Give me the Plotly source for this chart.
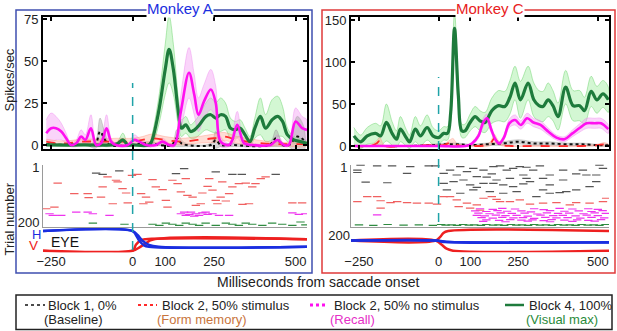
import plotly.graph_objects as go

FONT = "Liberation Sans, Arial, sans-serif"
W, H = 617, 331

X_RANGE = [-275, 535]
X_TICKS = [-250, 0, 100, 250, 500]
Y_TICKS_A = [0, 25, 50, 75]
Y_TICKS_C = [0, 50, 100, 150]

# ---------------- Monkey A firing rates (ms, spikes/sec, sem) ----------------
t_mA = [-265,-250,-235,-219,-204,-189,-173,-158,-145,-128,-112,-97,-80,-66,-51,-15,5,20,41,71,92,112,128,148,173,189,202,219,240,255,270,296,306,321,342,367,423,444,464,479,500,520,535]
y_mA = [7,10,10,8,4,0,1,5,3,10,0,1,10,2,0,0,3,2,0,0,2,0,0,20,43,30,18,26,33,25,2,0,3,12,1,0,0,3,0,0,14,10,9]
e_mA = [8,9,7,5,3,1,2,4,3,8,1,2,8,2,1,1,3,2,1,1,2,1,1,10,15,12,10,10,12,10,3,1,3,8,2,1,1,3,1,1,8,7,6]

t_gA = [-265,-150,-50,-30,-15,0,50,58,80,100,112,125,140,150,163,178,190,205,225,240,255,270,285,300,315,330,345,360,375,392,408,428,445,460,475,495,515,535]
y_gA = [0,0,0.5,3,0,0,0,2,20,45,57,45,20,10,12,8,9,12,17,18,16,18,17,10,9,10,6,2,10,17,10,15,17,14,6,3,2,1]
e_gA = [0.5,0.5,1,4,1,0.5,1,3,8,15,20,15,8,5,5,4,5,6,8,10,9,10,8,6,5,5,4,3,6,11,8,12,12,9,4,2,2,1]

t_kA = [-265,-200,-140,-115,-100,-85,-70,0,40,120,135,150,165,240,255,270,300,420,440,460,480,505,525]
y_kA = [0.5,0,0,0,8,3,0,0,1,0,4,1,0,0,3,0,0,0,4,0,0,5,3]
e_kA = [0.5,0.5,0.5,2,8,4,1,0.5,1,1,5,2,1,1,5,1,1,1,5,1,1,12,8]

t_rA = [-265,-230,-200,-150,-100,-50,0,30,60,100,150,200,250,280,320,350,400,450,535]
y_rA = [2,1,1,2,2,2,2,3,4,3,2,3,4,5,3,2,1,0.5,0.5]
e_rA = [1.5,1.5,1.5,1.5,1.5,2,2,2,2.5,2,2,2,2.5,2.5,2,2,1.5,1,1]

# ---------------- Monkey C firing rates ----------------
t_gC = [-266,-245,-224,-198,-182,-164,-146,-132,-120,-102,-91,-73,-57,-36,-18,0,16,28,38,50,62,73,83,99,115,130,146,167,188,208,224,240,257,281,299,315,328,344,359,375,399,422,443,458,479,497,516,533]
y_gC = [12,5,12,15,12,28,15,8,20,10,5,20,12,22,12,10,15,15,40,140,60,18,18,28,35,30,28,42,48,47,58,75,55,75,55,48,47,55,48,35,70,48,48,42,65,55,62,55]
e_gC = [10,8,10,12,12,22,14,10,15,10,8,15,12,15,10,8,8,8,12,20,15,8,8,10,12,12,12,15,18,18,20,20,22,20,20,18,18,20,18,16,20,18,18,16,18,16,16,15]

t_mC = [-266,-100,0,85,105,125,140,152,165,178,190,205,222,240,258,278,298,320,345,370,395,420,445,465,490,510,533]
y_mC = [0,0,0,0,3,12,28,33,20,8,3,10,27,31,25,33,28,25,17,10,8,15,22,27,27,27,20]
e_mC = [0.3,0.3,0.3,0.5,2,3,5,5,4,2,2,3,5,6,5,6,5,5,4,3,3,4,5,6,6,6,5]

t_rC = [-266,-215,-195,-185,-170,-100,-20,15,35,45,60,100,160,175,185,200,230,300,450,500,520,533]
y_rC = [0,0,3,6,0,0,1,1,4,5,1,0,2,9,5,1,0,0,0,1,2,1]
e_rC = [0.5,1,3,4,1,0.5,1,1,3,4,1,0.5,2,5,3,1,0.5,0.5,0.5,1,2,1]

t_kC = [-266,-100,-20,20,60,100,150,200,250,300,350,400,450,500,533]
y_kC = [0,0,1,2,2,1,2,3,5,3,3,2,2,1,1]
e_kC = [0.5,0.5,1,1.5,1.5,1,1.5,2,2.5,2,2,1.5,1.5,1,1]

# ---------------- Rasters (ms, trial) ----------------
rasA_black = [(-112,23),(-92,28),(-41,15),(133,25),(158,7),(255,19),(306,28),(335,28),(439,28)]
rasA_red = [(-230,59),(-179,97),(-138,97),(-135,112),(-97,110),(-92,73),(-77,37),(-61,134),(-51,49),(-46,55),
            (-31,79),(-20,95),(-15,131),(-2,31),(15,28),(26,97),(33,134),(41,110),(51,128),(61,47),(71,73),
            (92,83),(102,122),(107,146),(122,49),(138,61),(148,91),(163,43),(168,104),(184,110),(194,140),
            (209,134),(214,95),(230,71),(235,43),(245,85),(255,122),(260,134),(270,110),(275,55),(286,124),
            (296,97),(306,73),(326,61),(337,136),(347,59),(357,134),(367,73),(377,61),(393,43),(408,37),
            (490,131),(520,131),(-265,152),(-240,146)]
rasA_magenta = [(-255,170),(-245,176),(-219,176),(-173,164),(-138,164),(-122,170),(-71,176),(148,170),(163,176),
                (179,164),(194,170),(214,167),(230,172),(245,170),(265,176),(296,176),(490,167),(510,172),
                (530,170),(158,164),(204,176),(174,172),(224,164),(189,179)]
rasA_green = [(-122,204),(-25,208),(61,208),(82,212),(102,204),(122,208),(143,212),(163,204),(184,208),(204,212),
              (224,204),(255,212),(286,204),(306,208),(326,212),(347,204),(367,208),(398,212),(428,204),
              (459,208),(490,212),(515,200),(530,210)]

rasC_black = [(-245,-6),(-255,12),(-193,-3),(-146,-3),(-89,0),(-31,-3),(-10,-3),(-229,56),(-161,58),(-99,24),
              (-255,21),(16,24),(36,12),(57,30),(89,18),(109,6),(141,12),(167,26),(193,-3),(214,12),(234,6),
              (255,0),(276,2),(297,12),(318,-3),(349,30),(391,12),(432,26),(464,30),(495,30),(516,6),(16,60),
              (47,54),(78,48),(99,66),(120,75),(141,60),(172,60),(203,66),(234,72),(266,62),(287,54),(328,84),
              (349,96),(380,94),(401,90),(432,84),(474,72),(495,54),(26,84),(68,96),(109,84),(161,90),(203,96),
              (245,90),(307,108),(349,66),(266,30),(68,0),(172,0),(224,42),(276,42),(328,42),(391,48),(453,12),
              (505,-6),(120,36),(151,38),(182,48)]
rasC_red = [(-255,126),(-224,108),(-193,108),(-182,123),(-151,130),(-130,126),(-99,130),(-68,132),(-31,132),
            (-5,135),(16,108),(36,108),(57,120),(63,144),(89,132),(120,138),(141,114),(167,108),(182,118),
            (193,126),(224,126),(255,120),(287,135),(328,132),(370,130),(412,138),(432,130),(474,132),
            (516,126),(526,114),(99,150),(130,157),(-182,150)]
rasC_magenta = [(-193,174),
                (130,152),(170,154),(200,151),(240,153),(300,152),(330,155),(380,151),(420,153),(470,152),(500,154),
                (115,160),(150,162),(185,159),(215,161),(260,160),(290,163),(350,159),(395,161),(440,160),(480,162),(515,159),
                (125,168),(160,170),(195,167),(230,169),(270,168),(310,171),(340,167),(375,169),(410,168),(455,170),(490,167),(525,169),
                (120,176),(145,178),(180,175),(210,177),(245,176),(280,179),(320,175),(360,177),(390,176),(430,178),(465,175),(500,177),
                (135,184),(170,186),(200,183),(235,185),(265,184),(300,187),(335,183),(370,185),(405,184),(445,186),(480,183),(520,185),
                (150,192),(190,194),(225,191),(260,193),(295,192),(330,195),(355,191),(395,193),(435,192),(470,194),(510,191),
                (140,198),(210,199),(280,197),(350,199),(420,198),(490,197)]
rasC_green = [(-250,210),(-205,212),(-160,209),(-110,211),(-62,210),(-18,212),(8,209),(22,211),(41,210),(58,212),
              (77,209),(95,211),(112,210),(133,212),(150,209),(171,211),(188,210),(206,212),(227,209),(244,211),
              (262,210),(281,212),(300,209),(318,211),(337,210),(356,212),(375,209),(393,211),(412,210),(430,212),
              (449,209),(468,211),(487,210),(505,212),(524,209)]

# ---------------- Eye traces (ms, position) ----------------
eyeA_H = [([-275,0,15,30,50,80,535],[8.9,8.9,7.5,5.5,4.0,3.3,3.3]),
          ([-275,0,10,20,35,50,535],[8.9,8.9,7.5,5.5,3.8,3.3,3.3])]
eyeA_V = [([-275,0,10,25,40,535],[1.9,1.9,4.0,5.6,6.0,6.0]),
          ([-275,0,20,40,60,535],[1.9,1.9,3.0,4.5,5.8,6.0])]
eyeC_H = [([-275,-10,20,60,535],[5.5,5.5,5.0,4.9,4.8]),
          ([-275,-10,25,70,535],[5.5,5.5,5.1,4.8,4.9])]
eyeC_V = [([-275,-10,5,15,30,535],[5.5,5.5,6.8,8.2,8.9,8.9]),
          ([-275,-10,10,25,45,535],[5.5,5.5,4.0,2.6,1.9,1.9])]

# ---------------- styles ----------------
C_GREEN, F_GREEN, E_GREEN = "#1e7b3c", "rgba(140,235,140,0.38)", "rgba(90,205,90,0.7)"
C_MAG, F_MAG, E_MAG = "#ff10f0", "rgba(245,160,245,0.45)", "rgba(235,120,235,0.6)"
C_RED, F_RED, E_RED = "#ff2a2a", "rgba(255,170,150,0.4)", "rgba(255,120,100,0.5)"
C_BLK, F_BLK, E_BLK = "#111111", "rgba(165,165,165,0.45)", "rgba(130,130,130,0.5)"
C_TEAL = "#1fa3a8"
C_BLUE = "#1a2ee0"


def px_x(p):
    return p / W


def px_y(p):
    return 1 - p / H


fig = go.Figure()


def add_band(t, m, e, xa, ya, fill, edge):
    hi = [a + b for a, b in zip(m, e)]
    lo = [a - b for a, b in zip(m, e)]
    fig.add_trace(go.Scatter(x=t + t[::-1], y=hi + lo[::-1], fill="toself", fillcolor=fill,
                             mode="lines", line=dict(color=edge, width=0.6, shape="spline"),
                             xaxis=xa, yaxis=ya, hoverinfo="skip", showlegend=False))


def add_line(t, m, xa, ya, color, width, dash):
    fig.add_trace(go.Scatter(x=t, y=m, mode="lines",
                             line=dict(color=color, width=width, dash=dash, shape="spline"),
                             xaxis=xa, yaxis=ya, hoverinfo="skip", showlegend=False))


def add_raster(pairs, xa, ya, color):
    fig.add_trace(go.Scatter(x=[p[0] for p in pairs], y=[p[1] for p in pairs], mode="markers",
                             marker=dict(symbol="line-ew", size=6, line=dict(color=color, width=1.2)),
                             xaxis=xa, yaxis=ya, hoverinfo="skip", showlegend=False))


def add_eye(traces, xa, ya, color, width):
    for tt, yy in traces:
        fig.add_trace(go.Scatter(x=tt, y=yy, mode="lines",
                                 line=dict(color=color, width=width, shape="spline"),
                                 xaxis=xa, yaxis=ya, hoverinfo="skip", showlegend=False))


# Monkey A
add_band(t_gA, y_gA, e_gA, "x", "y", F_GREEN, E_GREEN)
add_band(t_mA, y_mA, e_mA, "x", "y", F_MAG, E_MAG)
add_band(t_kA, y_kA, e_kA, "x", "y", F_BLK, E_BLK)
add_band(t_rA, y_rA, e_rA, "x", "y", F_RED, E_RED)
add_line(t_kA, y_kA, "x", "y", C_BLK, 2, "dot")
add_line(t_rA, y_rA, "x", "y", C_RED, 1.8, "dash")
add_line(t_gA, y_gA, "x", "y", C_GREEN, 3.2, "solid")
add_line(t_mA, y_mA, "x", "y", C_MAG, 2.6, "solid")

# Monkey C
add_band(t_gC, y_gC, e_gC, "x4", "y4", F_GREEN, E_GREEN)
add_band(t_mC, y_mC, e_mC, "x4", "y4", F_MAG, E_MAG)
add_band(t_kC, y_kC, e_kC, "x4", "y4", F_BLK, E_BLK)
add_band(t_rC, y_rC, e_rC, "x4", "y4", F_RED, E_RED)
add_line(t_kC, y_kC, "x4", "y4", C_BLK, 2, "dot")
add_line(t_rC, y_rC, "x4", "y4", C_RED, 1.8, "dash")
add_line(t_gC, y_gC, "x4", "y4", C_GREEN, 3.2, "solid")
add_line(t_mC, y_mC, "x4", "y4", C_MAG, 2.6, "solid")

# rasters
add_raster(rasA_black, "x2", "y2", "#555555")
add_raster(rasA_red, "x2", "y2", "#f06060")
add_raster(rasA_magenta, "x2", "y2", "#ee33ee")
add_raster(rasA_green, "x2", "y2", "#2e8b40")
add_raster(rasC_black, "x5", "y5", "#555555")
add_raster(rasC_red, "x5", "y5", "#f06060")
add_raster(rasC_magenta, "x5", "y5", "#ee33ee")
add_raster(rasC_green, "x5", "y5", "#2e8b40")

# eye traces
add_eye(eyeA_V, "x3", "y3", "#ee2020", 2.5)
add_eye(eyeA_H, "x3", "y3", C_BLUE, 2.5)
add_eye(eyeC_V, "x6", "y6", "#ee2020", 2.5)
add_eye(eyeC_H, "x6", "y6", C_BLUE, 2.5)

# ---------------- axes ----------------
dom_A = [px_x(43), px_x(307)]
dom_C = [px_x(351), px_x(609)]
dom_top = [px_y(149), px_y(17)]
dom_ras = [px_y(227), px_y(164.5)]
dom_eye = [px_y(252.36), px_y(228)]
EYE_RANGE = [1.3, 10]
tickfont = dict(family=FONT, size=13, color="#222")


def top_x(dom, anchor):
    return dict(domain=dom, anchor=anchor, range=X_RANGE, showline=True, linecolor="black", linewidth=2,
                mirror="ticks", ticks="inside", ticklen=4, tickwidth=2, tickcolor="black",
                tickvals=X_TICKS, showticklabels=False, showgrid=False, zeroline=False)


def top_y(rng, ticks, anchor):
    return dict(domain=dom_top, anchor=anchor, range=rng, showline=True, linecolor="black", linewidth=2,
                mirror="ticks", ticks="inside", ticklen=4, tickwidth=2, tickcolor="black",
                tickvals=ticks, tickfont=tickfont, showgrid=False, zeroline=False)


def ras_x(dom, anchor):
    return dict(domain=dom, anchor=anchor, range=X_RANGE, showline=True, linecolor="#9a9a9a", linewidth=1,
                ticks="", showticklabels=False, showgrid=False, zeroline=False)


def ras_y(anchor, ticks):
    return dict(domain=dom_ras, anchor=anchor, range=[218, -8], showline=True, linecolor="#9a9a9a",
                linewidth=1, ticks="", tickvals=ticks, tickfont=tickfont, showgrid=False, zeroline=False)


def eye_x(dom, anchor):
    return dict(domain=dom, anchor=anchor, range=X_RANGE, showline=False, ticks="", tickvals=X_TICKS,
                tickfont=tickfont, showgrid=False, zeroline=False)


fig.update_layout(
    width=W, height=H, margin=dict(l=0, r=0, t=0, b=0, autoexpand=False),
    paper_bgcolor="white", plot_bgcolor="rgba(0,0,0,0)", showlegend=False,
    font=dict(family=FONT, size=13, color="#222"),
    xaxis=top_x(dom_A, "y"), yaxis=top_y([-2.4, 76.2], Y_TICKS_A, "x"),
    xaxis2=ras_x(dom_A, "y2"), yaxis2=ras_y("x2", [1, 200]),
    xaxis3=eye_x(dom_A, "y3"),
    yaxis3=dict(domain=dom_eye, anchor="x3", range=EYE_RANGE, visible=False),
    xaxis4=top_x(dom_C, "y4"), yaxis4=top_y([-3.6, 153.6], Y_TICKS_C, "x4"),
    xaxis5=ras_x(dom_C, "y5"), yaxis5=ras_y("x5", [1]),
    xaxis6=eye_x(dom_C, "y6"),
    yaxis6=dict(domain=dom_eye, anchor="x6", range=EYE_RANGE, showline=False, ticks="",
                tickvals=[7.25], ticktext=["200"], tickfont=tickfont, showgrid=False, zeroline=False),
)

shapes = []
# panel boxes
shapes.append(dict(type="rect", xref="paper", yref="paper", x0=px_x(16), x1=px_x(312), y0=px_y(273), y1=px_y(10),
                   line=dict(color="#3f4fb0", width=1.5), layer="below"))
shapes.append(dict(type="rect", xref="paper", yref="paper", x0=px_x(322), x1=px_x(615), y0=px_y(273), y1=px_y(10),
                   line=dict(color="#e03a3a", width=1.5), layer="below"))
# saccade onset markers
shapes.append(dict(type="line", xref="x", yref="paper", x0=0, x1=0, y0=px_y(250), y1=px_y(83),
                   line=dict(color=C_TEAL, width=1.5, dash="dash")))
shapes.append(dict(type="line", xref="x4", yref="paper", x0=0, x1=0, y0=px_y(222), y1=px_y(77),
                   line=dict(color=C_TEAL, width=1.5, dash="dash")))
# legend box
shapes.append(dict(type="rect", xref="paper", yref="paper", x0=px_x(16), x1=px_x(612), y0=px_y(329.5), y1=px_y(295),
                   line=dict(color="#222", width=1.5)))
leg_y = px_y(305)
leg_y2 = px_y(319)
legend_samples = [(25, 45, C_BLK, "dot", 1.5), (138, 157, C_RED, "dot", 2.2), (310, 328, C_MAG, "dot", 3),
                  (505, 524, C_GREEN, "solid", 2.5)]
for a, b, col, dsh, wd in legend_samples:
    shapes.append(dict(type="line", xref="paper", yref="paper", x0=px_x(a), x1=px_x(b), y0=leg_y, y1=leg_y,
                       line=dict(color=col, width=wd, dash=dsh)))
fig.update_layout(shapes=shapes)

ann = []


def text(s, x, y, size=13, color="#222", xanchor="center", bg=None, angle=0):
    d = dict(text=s, x=x, y=y, xref="paper", yref="paper", showarrow=False, xanchor=xanchor, yanchor="middle",
             font=dict(family=FONT, size=size, color=color), textangle=angle)
    if bg:
        d["bgcolor"] = bg
        d["borderpad"] = 0
    ann.append(d)


text("Monkey A", px_x(180), px_y(9), size=15, color=C_BLUE, bg="white")
text("Monkey C", px_x(490), px_y(9), size=15, color="#e82020", bg="white")
text("Spikes/sec", px_x(8.5), px_y(80), size=13, angle=-90)
text("Trial number", px_x(8.5), px_y(219), size=13, angle=-90)
text("Milliseconds from saccade onset", px_x(318), px_y(282), size=14)
text("H", px_x(36.5), px_y(234), size=13, color=C_BLUE)
text("V", px_x(33), px_y(245), size=13.5, color="#ee2020")
text("EYE", px_x(65), px_y(242), size=14, color="#111")

# legend texts
text("Block 1, 0%", px_x(46), leg_y, size=13, xanchor="left")
text("(Baseline)", px_x(73.5), leg_y2, size=13)
text("Block 2, 50% stimulus", px_x(160), leg_y, size=13, xanchor="left")
text("(Form memory)", px_x(202), leg_y2, size=13, color="#c8743c")
text("Block 2, 50% no stimulus", px_x(332), leg_y, size=13, xanchor="left")
text("(Recall)", px_x(352), leg_y2, size=13, color="#e62fc8")
text("Block 4, 100%", px_x(527), leg_y, size=13, xanchor="left")
text("(Visual max)", px_x(562), leg_y2, size=13, color="#2a8a3a")
fig.update_layout(annotations=ann)

fig.write_html("out.html", config={"displayModeBar": False},
               post_script="document.body.style.margin='0px';document.body.style.overflow='hidden';")
